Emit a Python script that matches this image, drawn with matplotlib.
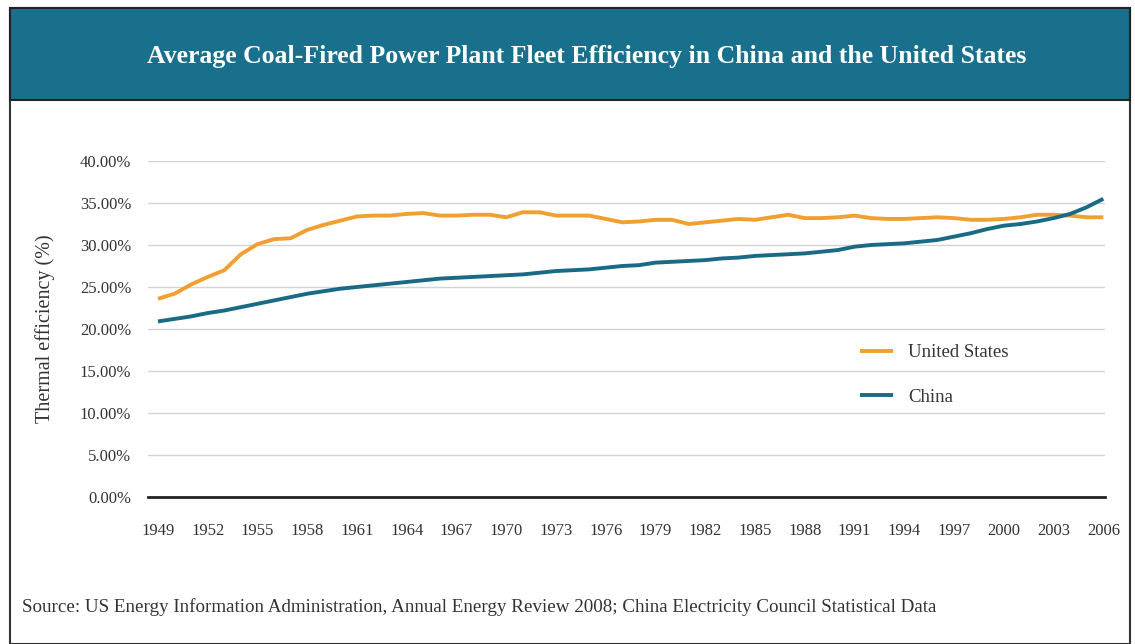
import numpy as np
import matplotlib
matplotlib.use('Agg')
import matplotlib.pyplot as plt
from matplotlib.patches import Rectangle
from matplotlib.ticker import FuncFormatter

years = list(range(1949, 2007))
us_eff = [23.6, 24.2, 25.3, 26.2, 27.0, 28.9, 30.1, 30.7, 30.8, 31.8,
          32.4, 32.9, 33.4, 33.5, 33.5, 33.7, 33.8, 33.5, 33.5, 33.6,
          33.6, 33.3, 33.9, 33.9, 33.5, 33.5, 33.5, 33.1, 32.7, 32.8,
          33.0, 33.0, 32.5, 32.7, 32.9, 33.1, 33.0, 33.3, 33.6, 33.2,
          33.2, 33.3, 33.5, 33.2, 33.1, 33.1, 33.2, 33.3, 33.2, 33.0,
          33.0, 33.1, 33.3, 33.6, 33.6, 33.5, 33.3, 33.3]
china_eff = [20.9, 21.2, 21.5, 21.9, 22.2, 22.6, 23.0, 23.4, 23.8, 24.2,
             24.5, 24.8, 25.0, 25.2, 25.4, 25.6, 25.8, 26.0, 26.1, 26.2,
             26.3, 26.4, 26.5, 26.7, 26.9, 27.0, 27.1, 27.3, 27.5, 27.6,
             27.9, 28.0, 28.1, 28.2, 28.4, 28.5, 28.7, 28.8, 28.9, 29.0,
             29.2, 29.4, 29.8, 30.0, 30.1, 30.2, 30.4, 30.6, 31.0, 31.4,
             31.9, 32.3, 32.5, 32.8, 33.2, 33.7, 34.5, 35.5]
x_ticks = list(range(1949, 2007, 3))
y_ticks = [0, 5, 10, 15, 20, 25, 30, 35, 40]

serif = ['Liberation Serif', 'DejaVu Serif']
teal = '#19708c'
orange = '#f0a030'
blue = '#1a6a85'

fig = plt.figure(figsize=(11.35, 6.44), dpi=100)

# outer frame and title band (kept behind the axes)
fig.patches.append(Rectangle((10/1135, 0), 1120/1135, 1 - 8/644, transform=fig.transFigure,
                             facecolor='white', edgecolor='#333333', lw=1.5, zorder=-10))
fig.patches.append(Rectangle((10/1135, 1 - 100/644), 1120/1135, 92/644, transform=fig.transFigure,
                             facecolor=teal, edgecolor='#222222', lw=1.5, zorder=-9))
fig.text(587/1135, 1 - 57/644, 'Average Coal-Fired Power Plant Fleet Efficiency in China and the United States',
         color='white', fontsize=18.5, fontweight='bold', family=serif, ha='center', va='center')

ax = fig.add_axes([148/1135, 1 - 497/644, (1105 - 148)/1135, (497 - 161)/644])
ax.patch.set_alpha(0)
ax.plot(years, us_eff, color=orange, lw=2.8, label='United States', solid_capstyle='butt')
ax.plot(years, china_eff, color=blue, lw=2.8, label='China', solid_capstyle='butt')

ax.set_xlim(1948.4, 2006.1)
ax.set_ylim(0, 40)
ax.set_xticks(x_ticks)
ax.set_yticks(y_ticks)
ax.yaxis.set_major_formatter(FuncFormatter(lambda v, p: '%.2f%%' % v))
ax.grid(axis='y', color='#d4d4d4', lw=1)
ax.set_axisbelow(True)
for s in ['top', 'right', 'left']:
    ax.spines[s].set_visible(False)
ax.spines['bottom'].set_color('#222222')
ax.spines['bottom'].set_linewidth(2)
ax.tick_params(axis='both', length=0, labelsize=12, labelcolor='#333333')
ax.tick_params(axis='x', pad=19)
ax.tick_params(axis='y', pad=12)
for lbl in ax.get_xticklabels() + ax.get_yticklabels():
    lbl.set_family(serif)

ax.set_ylabel('Thermal efficiency (%)', family=serif, fontsize=14.5, color='#333333', labelpad=18)

leg = ax.legend(loc='upper left', bbox_to_anchor=(0.726, 0.505), frameon=False,
                prop={'family': serif, 'size': 13.5}, handlelength=1.8, labelspacing=1.45)
for t in leg.get_texts():
    t.set_color('#333333')

fig.text(22/1135, 1 - 607/644,
         'Source: US Energy Information Administration, Annual Energy Review 2008; China Electricity Council Statistical Data',
         family=serif, fontsize=13.7, color='#333333', ha='left', va='center')

fig.savefig('out.png', dpi=100)
